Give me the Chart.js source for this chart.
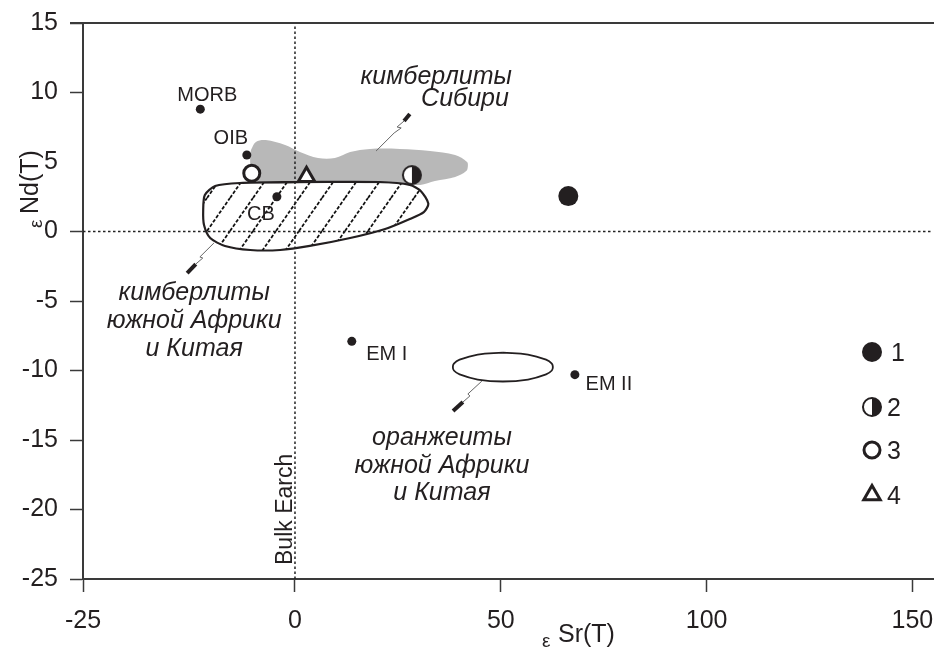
<!DOCTYPE html>
<html>
<head>
<meta charset="utf-8">
<script src="https://cdn.jsdelivr.net/npm/chart.js@4.4.1/dist/chart.umd.min.js"></script>
<style>
  body { margin: 0; background: #fff; }
  canvas { display: block; }
</style>
</head>
<body>
<canvas id="chart" width="934" height="649"></canvas>
<script>
/* ---------------- DATA ---------------- */
// mantle reservoirs
const refNames = ["MORB", "OIB", "CB", "EM I", "EM II"];
const refSr = [-23.0, -11.7, -4.4, 13.8, 68.0];
const refNd = [8.8, 5.5, 2.5, -7.9, -10.3];

// samples, legend 1-4
const sampleLabels = ["1", "2", "3", "4"];
const sampleSr = [66.4, 28.4, -10.5, 2.8];
const sampleNd = [2.55, 4.06, 4.19, 3.94];

// field: kimberlites of Siberia (grey)
const siberiaSr = [-10.7, -9.5, -7.1, -2.4, 1.2, 5.6, 9.7, 13.4, 18.2, 25.5, 32.8, 38.9, 41.8, 42.0, 41.6, 38.9, 34.0, 30.4, 25.5, 8.5, -8.0, -10.5, -10.9, -10.7];
const siberiaNd = [5.86, 6.44, 6.58, 6.22, 5.72, 5.29, 5.29, 5.72, 5.94, 5.94, 5.79, 5.50, 5.00, 4.70, 4.35, 3.92, 3.63, 3.35, 3.42, 3.49, 3.49, 4.06, 5.14, 5.86];

// field: kimberlites of South Africa and China (hatched)
const africaSr = [1.2, 20.6, 27.9, 30.6, 32.4, 31.3, 27.9, 21.9, 13.4, 3.6, -3.6, -10.9, -17.0, -20.6, -22.1, -22.3, -21.9, -19.4, -13.4, 1.2];
const africaNd = [3.56, 3.56, 3.35, 2.90, 2.00, 1.40, 0.90, 0.18, -0.47, -1.04, -1.33, -1.33, -1.04, -0.47, 0.47, 1.55, 2.63, 3.27, 3.49, 3.56];

// field: orangeites of South Africa and China (open ellipse)
const orangeSr = [50.5, 56.6, 61.0, 62.4, 62.65, 62.4, 61.0, 56.6, 50.5, 44.4, 40.0, 38.6, 38.35, 38.6, 40.0, 44.4, 50.5];
const orangeNd = [-8.71, -8.85, -9.22, -9.50, -9.75, -10.00, -10.28, -10.65, -10.79, -10.65, -10.28, -10.00, -9.75, -9.50, -9.22, -8.85, -8.71];

// callout leaders
const siberiaLeadSr = [19.7, 24.1, 25.8, 24.8, 26.5];
const siberiaLeadNd = [5.79, 7.09, 7.45, 7.52, 7.95];
const siberiaTipSr = [26.5, 27.9];
const siberiaTipNd = [7.95, 8.45];
const africaLeadSr = [-19.7, -23.1, -22.4, -24.1];
const africaLeadNd = [-0.83, -1.83, -1.91, -2.34];
const africaTipSr = [-24.1, -26.2];
const africaTipNd = [-2.34, -2.99];
const orangeLeadSr = [45.4, 42.0, 42.5, 40.8];
const orangeLeadNd = [-10.76, -11.69, -11.83, -12.27];
const orangeTipSr = [40.8, 38.4];
const orangeTipNd = [-12.27, -12.91];

// Bulk Earth lines
const bulkEarthSr = 0;
const bulkEarthNd = 0;

// axes
const xMin = -51.5, xMax = 155;
const yMin = -25, yMax = 15;
const xTickValues = [-51.5, 0, 50, 100, 150];
const xTickLabels = ["-25", "0", "50", "100", "150"];
const yTickValues = [-25, -20, -15, -10, -5, 0, 5, 10, 15];

/* ---------------- STYLE HELPERS ---------------- */
const NARROW = "'Liberation Sans Narrow', 'Liberation Sans', Arial, sans-serif";
const SANS = "'Liberation Sans', Arial, sans-serif";
const INK = "#231f20";
const AXIS = "#3a3a3a";

const pts = (xs, ys) => xs.map((v, i) => ({ x: v, y: ys[i] }));

function halfDisc(r) {
    const size = Math.ceil(2 * r + 4);
    const c = document.createElement("canvas");
    c.width = size; c.height = size;
    const g = c.getContext("2d");
    const m = size / 2;
    g.fillStyle = "#fff";
    g.beginPath(); g.arc(m, m, r, 0, Math.PI * 2); g.fill();
    g.fillStyle = INK;
    g.beginPath(); g.arc(m, m, r, -Math.PI / 2, Math.PI / 2); g.closePath(); g.fill();
    g.strokeStyle = INK; g.lineWidth = 2;
    g.beginPath(); g.arc(m, m, r, 0, Math.PI * 2); g.stroke();
    return c;
}

function hatch() {
    const w = 23, h = 33;
    const c = document.createElement("canvas");
    c.width = w; c.height = h;
    const g = c.getContext("2d");
    g.strokeStyle = "#111";
    g.lineWidth = 1.8;
    g.setLineDash([3.5, 1.8]);
    for (const dx of [-w, 0, w]) {
        g.beginPath(); g.moveTo(dx, h); g.lineTo(dx + w, 0); g.stroke();
    }
    return g.createPattern(c, "repeat");
}

const sampleStyles = [
    { pointStyle: "circle", pointRadius: 10, pointBackgroundColor: INK, pointBorderColor: INK, pointBorderWidth: 0 },
    { pointStyle: halfDisc(9), pointRadius: 10, pointBackgroundColor: INK, pointBorderColor: INK, pointBorderWidth: 0 },
    { pointStyle: "circle", pointRadius: 8, pointBackgroundColor: "#fff", pointBorderColor: INK, pointBorderWidth: 3 },
    { pointStyle: "triangle", pointRadius: 9.5, pointBackgroundColor: "#fff", pointBorderColor: INK, pointBorderWidth: 3 }
];

const shape = (data, extra) => Object.assign({
    data, showLine: true, pointRadius: 0, pointHoverRadius: 0, tension: 0
}, extra);

/* ---------------- OVERLAY TEXT ---------------- */
const overlay = {
    id: "overlay",
    afterDraw(chart) {
        const { ctx, chartArea: area, scales: { x, y } } = chart;
        ctx.save();

        // top frame
        ctx.strokeStyle = AXIS; ctx.lineWidth = 2;
        ctx.beginPath();
        ctx.moveTo(area.left - 13, area.top);
        ctx.lineTo(chart.width, area.top);
        ctx.stroke();

        ctx.fillStyle = INK;
        ctx.textAlign = "center";
        ctx.textBaseline = "middle";

        // reservoir names
        ctx.font = `20px ${NARROW}`;
        const offs = { "MORB": [7, -14], "OIB": [-16, -17], "CB": [-16, 18], "EM I": [35, 13], "EM II": [34, 10] };
        refNames.forEach((n, i) => {
            const [dx, dy] = offs[n];
            ctx.fillText(n, x.getPixelForValue(refSr[i]) + dx, y.getPixelForValue(refNd[i]) + dy);
        });

        // field captions
        ctx.font = `italic 25px ${SANS}`;
        const put = (t, sr, nd) => ctx.fillText(t, x.getPixelForValue(sr), y.getPixelForValue(nd));
        put("кимберлиты", 34.3, 11.12);
        put("Сибири", 41.3, 9.53);
        put("кимберлиты", -24.5, -4.42);
        put("южной Африки", -24.5, -6.44);
        put("и Китая", -24.5, -8.45);
        put("оранжеиты", 35.7, -14.86);
        put("южной Африки", 35.7, -16.87);
        put("и Китая", 35.7, -18.81);

        // Bulk Earth label
        ctx.save();
        ctx.translate(x.getPixelForValue(bulkEarthSr) - 9, area.bottom - 14);
        ctx.rotate(-Math.PI / 2);
        ctx.textAlign = "left";
        ctx.font = `23px ${SANS}`;
        ctx.fillText("Bulk Earch", 0, 0);
        ctx.restore();

        // axis titles
        ctx.textAlign = "left";
        ctx.textBaseline = "alphabetic";
        ctx.font = `19px ${NARROW}`;
        ctx.fillText("ε", 542, 647);
        ctx.font = `25px ${NARROW}`;
        ctx.fillText("Sr(T)", 558, 642);

        ctx.save();
        ctx.translate(38, 228);
        ctx.rotate(-Math.PI / 2);
        ctx.font = `19px ${NARROW}`;
        ctx.fillText("ε", 0, 4);
        ctx.font = `25px ${NARROW}`;
        ctx.fillText("Nd(T)", 14, 0);
        ctx.restore();

        // legend
        const rows = [352, 407, 450, 495];
        ctx.textBaseline = "middle";
        sampleLabels.forEach((lab, i) => {
            const s = sampleStyles[i];
            ctx.fillStyle = s.pointBackgroundColor;
            ctx.strokeStyle = s.pointBorderColor;
            ctx.lineWidth = s.pointBorderWidth;
            Chart.helpers.drawPoint(ctx, {
                pointStyle: s.pointStyle, radius: s.pointRadius, rotation: 0, borderWidth: s.pointBorderWidth
            }, 872, rows[i]);
            ctx.fillStyle = INK;
            ctx.font = `25px ${NARROW}`;
            ctx.fillText(lab, i === 0 ? 891 : 887, rows[i] + 2);
        });

        ctx.restore();
    }
};

/* ---------------- CHART ---------------- */
const datasets = [
    shape(pts(siberiaSr, siberiaNd), { borderWidth: 0, borderColor: "rgba(0,0,0,0)", backgroundColor: "#b8b8b8", fill: "shape", tension: 0.35, order: 20 }),
    shape(pts(africaSr, africaNd), { borderWidth: 2.2, borderColor: INK, backgroundColor: hatch(), fill: "shape", tension: 0.25, order: 18 }),
    shape(pts(orangeSr, orangeNd), { borderWidth: 1.8, borderColor: INK, fill: false, tension: 0.4, order: 18 }),
    shape([{ x: bulkEarthSr, y: yMin }, { x: bulkEarthSr, y: yMax }], { borderWidth: 1.5, borderColor: "#222", borderDash: [2.5, 2.5], order: 15 }),
    shape([{ x: xMin, y: bulkEarthNd }, { x: xMax, y: bulkEarthNd }], { borderWidth: 1.5, borderColor: "#222", borderDash: [2.5, 2.5], order: 15 }),
    shape(pts(siberiaLeadSr, siberiaLeadNd), { borderWidth: 1, borderColor: "#666", order: 12 }),
    shape(pts(siberiaTipSr, siberiaTipNd), { borderWidth: 4, borderColor: INK, order: 12 }),
    shape(pts(africaLeadSr, africaLeadNd), { borderWidth: 1, borderColor: "#666", order: 12 }),
    shape(pts(africaTipSr, africaTipNd), { borderWidth: 4, borderColor: INK, order: 12 }),
    shape(pts(orangeLeadSr, orangeLeadNd), { borderWidth: 1, borderColor: "#666", order: 12 }),
    shape(pts(orangeTipSr, orangeTipNd), { borderWidth: 4, borderColor: INK, order: 12 }),
    {
        data: pts(refSr, refNd), showLine: false, pointRadius: 4.5, pointBackgroundColor: INK,
        pointBorderWidth: 0, order: 2
    }
];
sampleSr.forEach((v, i) => {
    datasets.push(Object.assign({ data: [{ x: v, y: sampleNd[i] }], showLine: false, order: 1 }, sampleStyles[i]));
});

new Chart(document.getElementById("chart"), {
    type: "scatter",
    data: { datasets },
    options: {
        responsive: false,
        animation: false,
        devicePixelRatio: 1,
        layout: { autoPadding: false, padding: { top: 23, right: 1, left: 0, bottom: 0 } },
        plugins: { legend: { display: false }, tooltip: { enabled: false } },
        scales: {
            x: {
                type: "linear", position: "bottom", min: xMin, max: xMax,
                afterBuildTicks: s => { s.ticks = xTickValues.map(v => ({ value: v })); },
                afterFit: s => { s.height = 70; s.paddingLeft = 0; s.paddingRight = 0; },
                ticks: {
                    font: { family: NARROW, size: 25, lineHeight: 2.3 }, color: INK, padding: 0,
                    maxRotation: 0, autoSkip: false,
                    callback: (v, i) => xTickLabels[i]
                },
                grid: { drawOnChartArea: false, drawTicks: true, tickLength: 13, tickWidth: 1.5, tickColor: AXIS },
                border: { display: true, color: AXIS, width: 2 }
            },
            y: {
                type: "linear", min: yMin, max: yMax,
                afterBuildTicks: s => { s.ticks = yTickValues.map(v => ({ value: v })); },
                afterFit: s => { s.width = 83; s.paddingTop = 0; s.paddingBottom = 0; },
                ticks: {
                    font: { family: NARROW, size: 25 }, color: INK, padding: 12,
                    callback: v => String(v)
                },
                grid: {
                    drawOnChartArea: false, drawTicks: true, tickLength: 13, tickWidth: 1.5,
                    tickColor: c => (c.tick && c.tick.value === 5 ? "rgba(0,0,0,0)" : AXIS)
                },
                border: { display: true, color: AXIS, width: 2 }
            }
        }
    },
    plugins: [overlay]
});
</script>
</body>
</html>
